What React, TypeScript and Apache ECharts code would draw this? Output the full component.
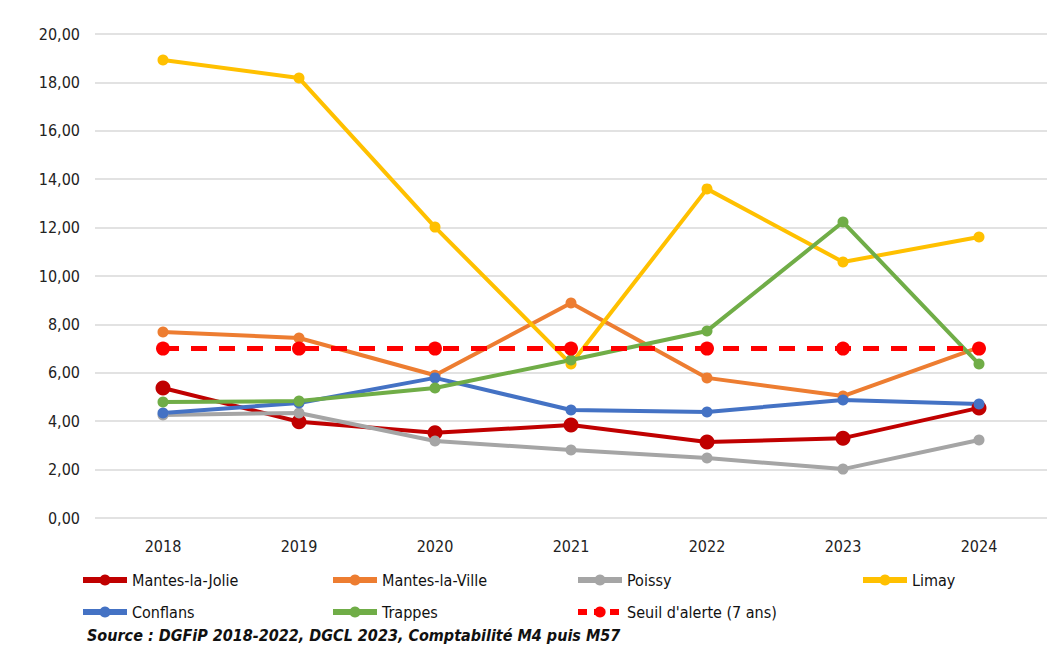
import React, { useEffect, useRef } from "react";
import * as echarts from "echarts";

const years = ["2018", "2019", "2020", "2021", "2022", "2023", "2024"];
const mantesLaJolie = [5.37, 3.98, 3.52, 3.84, 3.14, 3.3, 4.55];
const mantesLaVille = [7.69, 7.44, 5.9, 8.88, 5.79, 5.04, 7.05];
const poissy = [4.26, 4.34, 3.18, 2.81, 2.48, 2.02, 3.22];
const limay = [18.93, 18.18, 12.02, 6.36, 13.6, 10.58, 11.61];
const conflans = [4.34, 4.75, 5.79, 4.46, 4.38, 4.88, 4.71];
const trappes = [4.79, 4.83, 5.37, 6.53, 7.73, 12.23, 6.36];
const seuil = [7, 7, 7, 7, 7, 7, 7];

const FONT = "'DejaVu Sans Condensed', 'Liberation Sans Narrow', Roboto, sans-serif";

export default function App() {
  const ref = useRef<HTMLDivElement>(null);
  useEffect(() => {
    if (!ref.current) return;
    const chart = echarts.init(ref.current, null, { renderer: "svg" });
    const mk = (name: string, data: number[], color: string, size: number, extra: any = {}) => ({
      name,
      type: "line",
      data,
      color,
      symbol: "circle",
      symbolSize: size,
      lineStyle: { width: 4, color, ...(extra.lineStyle || {}) },
      itemStyle: { color },
      z: extra.z ?? 2,
    });
    const legendItem = (name: string, left: number, top: number, dashed = false) => ({
      data: [name],
      left,
      top,
      itemWidth: 44,
      itemHeight: 14,
      itemGap: 0,
      lineStyle: { width: 6, type: dashed ? [9, 7] : "solid" },
      textStyle: { fontFamily: FONT, fontSize: 16, color: "#111" },
    });
    chart.setOption({
      animation: false,
      backgroundColor: "#fff",
      grid: { left: 95, right: 16, top: 34, bottom: 150 },
      xAxis: {
        type: "category",
        data: years,
        boundaryGap: true,
        axisLine: { show: false },
        axisTick: { show: false },
        axisLabel: { fontFamily: FONT, fontSize: 16, color: "#222", margin: 20 },
      },
      yAxis: {
        type: "value",
        min: 0,
        max: 20,
        interval: 2,
        axisLabel: {
          fontFamily: FONT,
          fontSize: 16,
          color: "#222",
          margin: 15,
          formatter: (v: number) => v.toFixed(2).replace(".", ","),
        },
        splitLine: { lineStyle: { color: "#d9d9d9", width: 1.5 } },
      },
      legend: [
        legendItem("Mantes-la-Jolie", 75, 567),
        legendItem("Mantes-la-Ville", 325, 567),
        legendItem("Poissy", 570, 567),
        legendItem("Limay", 855, 567),
        legendItem("Conflans", 75, 599),
        legendItem("Trappes", 325, 599),
        legendItem("Seuil d'alerte (7 ans)", 570, 599, true),
      ],
      series: [
        mk("Mantes-la-Jolie", mantesLaJolie, "#c00000", 15),
        mk("Mantes-la-Ville", mantesLaVille, "#ed7d31", 11),
        mk("Poissy", poissy, "#a5a5a5", 11),
        mk("Limay", limay, "#ffc000", 11),
        mk("Conflans", conflans, "#4472c4", 11),
        mk("Trappes", trappes, "#70ad47", 11),
        mk("Seuil d'alerte (7 ans)", seuil, "#ff0000", 14, {
          lineStyle: { width: 5, type: [16, 12] },
          z: 3,
        }),
      ],
      graphic: [
        {
          type: "text",
          left: 87,
          top: 627,
          style: {
            text: "Source : DGFiP 2018-2022, DGCL 2023, Comptabilité M4 puis M57",
            fontFamily: FONT,
            fontSize: 16,
            fontWeight: "bold",
            fontStyle: "italic",
            fill: "#111",
          },
        },
      ],
    });
    return () => chart.dispose();
  }, []);
  return <div ref={ref} style={{ width: 1063, height: 668, position: "absolute", left: 0, top: 0 }} />;
}
